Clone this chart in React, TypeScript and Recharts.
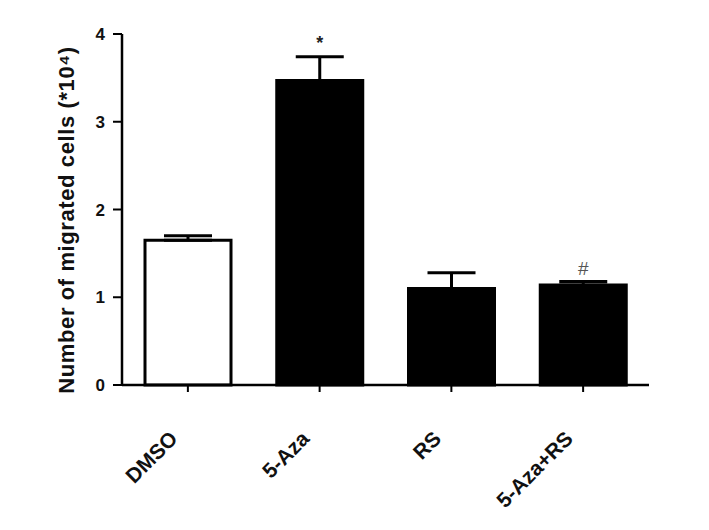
import React from 'react';
import { BarChart, Bar, XAxis, YAxis, Cell, ErrorBar, LabelList } from 'recharts';

// values
const groups = ['DMSO', '5-Aza', 'RS', '5-Aza+RS'];
const means = [1.65, 3.47, 1.1, 1.14];
const sems = [0.05, 0.27, 0.18, 0.04];
const marks = ['', '*', '', '#'];
const fills = ['#ffffff', '#000000', '#000000', '#000000'];
const yTicks = [0, 1, 2, 3, 4];

const data = groups.map((g, i) => ({
  name: g,
  value: means[i],
  err: [0, sems[i]],
  mark: marks[i],
}));

const FONT = 'Arial, "Liberation Sans", sans-serif';

const XTick = (props: any) => {
  const { x, y, payload } = props;
  const ax = x - 9;
  const ay = y + 46;
  return (
    <text
      x={ax}
      y={ay}
      transform={`rotate(-45, ${ax}, ${ay})`}
      textAnchor="end"
      fontFamily={FONT}
      fontWeight="bold"
      fontSize={21}
      fill="#111"
    >
      {payload.value}
    </text>
  );
};

const MarkLabel = (props: any) => {
  const { x, y, width, height, index } = props;
  const m = marks[index];
  if (!m) return null;
  // error top in pixels, from the bar's own scale
  const top = y - (sems[index] * height) / means[index];
  return (
    <text
      x={x + width / 2}
      y={m === '*' ? top - 8 : top - 6}
      textAnchor="middle"
      fontFamily={FONT}
      fontWeight={m === '*' ? 'bold' : 'normal'}
      fontSize={m === '*' ? 18 : 19}
      fill={m === '*' ? '#222' : '#555'}
    >
      {m}
    </text>
  );
};

export default function App() {
  return (
    <div style={{ position: 'absolute', left: 0, top: 0, width: 709, height: 530, background: '#fff' }}>
      <BarChart
        width={709}
        height={530}
        data={data}
        margin={{ top: 34, right: 60, bottom: 45, left: 62 }}
        barSize={86}
      >
        <XAxis
          dataKey="name"
          height={100}
          axisLine={{ stroke: '#000', strokeWidth: 2.5 }}
          tickLine={{ stroke: '#000', strokeWidth: 2 }}
          tickSize={7}
          tick={<XTick />}
          interval={0}
        />
        <YAxis
          width={60}
          domain={[0, 4]}
          ticks={yTicks}
          axisLine={{ stroke: '#000', strokeWidth: 2.5 }}
          tickLine={{ stroke: '#000', strokeWidth: 2 }}
          tickSize={9}
          tickMargin={8}
          tick={{ fontFamily: FONT, fontWeight: 'bold', fontSize: 17, fill: '#111' }}
          label={{
            content: () => (
              <text
                x={74}
                y={220}
                transform="rotate(-90, 74, 220)"
                textAnchor="middle"
                fontFamily={FONT}
                fontWeight="bold"
                fontSize={22}
                letterSpacing={0.6}
                fill="#111"
              >
                Number of migrated cells (*10⁴)
              </text>
            ),
          }}
        />
        <Bar dataKey="value" stroke="#000" strokeWidth={3} isAnimationActive={false}>
          {data.map((d, i) => (
            <Cell key={d.name} fill={fills[i]} />
          ))}
          <ErrorBar dataKey="err" width={24} stroke="#000" strokeWidth={3} direction="y" />
          <LabelList dataKey="mark" content={<MarkLabel />} />
        </Bar>
      </BarChart>
    </div>
  );
}
